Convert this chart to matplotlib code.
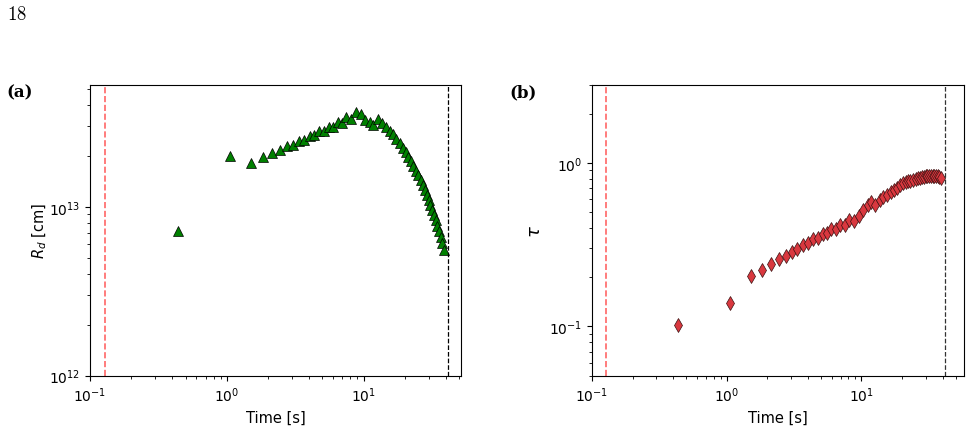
import matplotlib
matplotlib.use("Agg")
import matplotlib.pyplot as plt

# time bins shared by both panels [s]
time = [0.437, 1.05, 1.51, 1.83, 2.14, 2.44, 2.74, 3.04, 3.35, 3.70,
        4.03, 4.38, 4.72, 5.14, 5.56, 5.99, 6.47, 6.97, 7.50, 8.15,
        8.82, 9.65, 10.3, 11.1, 11.8, 12.7, 13.7, 14.5, 15.5, 16.5,
        17.4, 18.4, 19.4, 20.4, 21.3, 22.2, 23.1, 24.2, 25.2, 26.1,
        27.1, 28.0, 28.9, 29.9, 30.8, 31.9, 32.7, 33.7, 34.7, 35.6,
        36.7, 37.7, 38.7]

# photospheric radius [cm]
r_d = [7.15e12, 2.00e13, 1.81e13, 1.98e13, 2.07e13, 2.17e13, 2.28e13, 2.33e13, 2.45e13, 2.49e13,
       2.62e13, 2.64e13, 2.80e13, 2.80e13, 2.96e13, 2.95e13, 3.17e13, 3.11e13, 3.38e13, 3.30e13,
       3.65e13, 3.54e13, 3.26e13, 3.17e13, 3.04e13, 3.30e13, 3.14e13, 2.95e13, 2.79e13, 2.68e13,
       2.52e13, 2.37e13, 2.23e13, 2.10e13, 1.97e13, 1.86e13, 1.74e13, 1.63e13, 1.53e13, 1.44e13,
       1.34e13, 1.26e13, 1.18e13, 1.10e13, 1.03e13, 9.6e12, 8.9e12, 8.3e12, 7.7e12, 7.2e12,
       6.6e12, 6.1e12, 5.55e12]

# optical depth
tau = [0.102, 0.140, 0.204, 0.221, 0.242, 0.259, 0.271, 0.287, 0.298, 0.315,
       0.326, 0.343, 0.349, 0.366, 0.375, 0.395, 0.395, 0.420, 0.416, 0.451,
       0.440, 0.472, 0.519, 0.552, 0.576, 0.552, 0.590, 0.621, 0.639, 0.667,
       0.683, 0.705, 0.730, 0.750, 0.765, 0.772, 0.780, 0.789, 0.797, 0.805,
       0.812, 0.818, 0.824, 0.828, 0.832, 0.834, 0.836, 0.836, 0.835, 0.832,
       0.828, 0.822, 0.812]

t_red = 0.128
t_black = 41.5

fig = plt.figure(figsize=(9.71, 4.31), dpi=100)

H = 431.0
W = 971.0
ax1 = fig.add_axes([90 / W, (H - 376.7) / H, 371 / W, 290.7 / H])
ax2 = fig.add_axes([592 / W, (H - 376.7) / H, 372 / W, 290.7 / H])

ax1.plot(time, r_d, ls="none", marker="^", ms=6.5, mfc="green", mec="black", mew=0.5)
ax1.axvline(t_red, color="red", ls="--", lw=1.2, alpha=0.6)
ax1.axvline(t_black, color="black", ls="--", lw=0.9)
ax1.set_xscale("log")
ax1.set_yscale("log")
ax1.set_xlim(0.1, 51.6)
ax1.set_ylim(1e12, 5.25e13)
ax1.set_xlabel("Time [s]", fontsize=10.5)
ax1.set_ylabel(r"$R_d$ [cm]", fontsize=10.5, labelpad=0)

ax2.plot(time, tau, ls="none", marker="d", ms=7, mfc="#d9383f", mec="#3a1010", mew=0.5)
ax2.axvline(t_red, color="red", ls="--", lw=1.2, alpha=0.6)
ax2.axvline(t_black, color="black", ls="--", lw=0.9, alpha=0.8)
ax2.set_xscale("log")
ax2.set_yscale("log")
ax2.set_xlim(0.1, 57.7)
ax2.set_ylim(0.05, 3.0)
ax2.set_xlabel("Time [s]", fontsize=10.5)
ax2.set_ylabel(r"$\tau$", fontsize=13, labelpad=4)

# page number and panel tags in the paper's serif font
fig.text(7 / W, 1 - 15 / H, r"$\mathrm{18}$", fontsize=13.5, va="center", ha="left", math_fontfamily="cm")
fig.text(6 / W, 1 - 93 / H, "(a)", fontsize=12, fontweight="bold", family="DejaVu Serif",
         va="center", ha="left")
fig.text(509 / W, 1 - 93 / H, "(b)", fontsize=12, fontweight="bold", family="DejaVu Serif",
         va="center", ha="left")

fig.savefig("out.png", dpi=100)
